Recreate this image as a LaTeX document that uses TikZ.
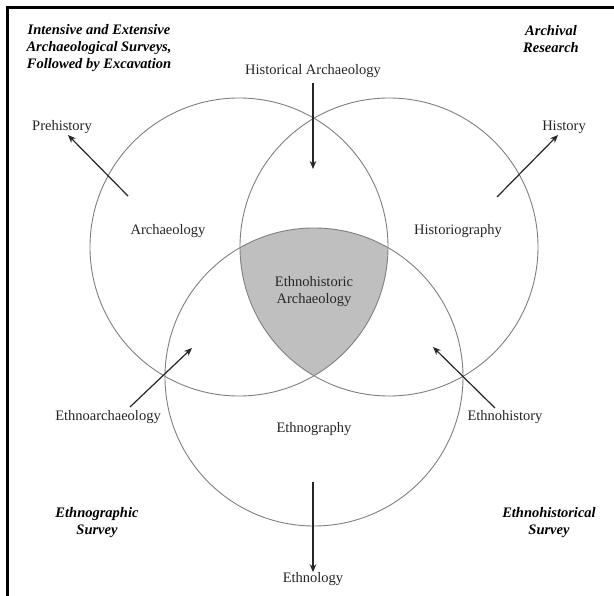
\documentclass[tikz,border=0pt]{standalone}
\usepackage{fontspec}
\setmainfont{Liberation Serif}
\usepackage{tikz}
\usetikzlibrary{arrows.meta,positioning}

\begin{document}
\begin{tikzpicture}[
  x=1pt, y=-1pt,
  ring/.style={draw=black!50, line width=0.9pt},
  core/.style={fill=black!25},
  field/.style={inner sep=0pt, text=black!85, align=center,
    font=\fontsize{14.5}{17}\selectfont},
  survey/.style={inner sep=0pt, text=black, align=center,
    font=\fontsize{14.5}{17}\selectfont\bfseries\itshape},
  arr/.style={-{Stealth[length=8pt,width=6.5pt]}, line width=1.2pt, draw=black!85}
]
\useasboundingbox (0,0) rectangle (614,596);
\fill[white] (0,0) rectangle (614,596);
\draw[line width=3pt] (7.5,600) -- (7.5,7.5) -- (620,7.5);

% circle centres
\coordinate (arch)  at (239,247);
\coordinate (hist)  at (389,247);
\coordinate (ethno) at (314,377);

\begin{scope}
  \clip (arch) circle[radius=149];
  \clip (hist) circle[radius=149];
  \fill[core] (ethno) circle[radius=149];
\end{scope}
\draw[ring] (arch)  circle[radius=149];
\draw[ring] (hist)  circle[radius=149];
\draw[ring] (ethno) circle[radius=149];

% labels inside
\node[field] (archl)  at (168,231) {Archaeology};
\node[field] (histl)  at (458,231) {Historiography};
\node[field] (ethnol) at (314,429) {Ethnography};
\node[field] (corel)  at (314,292) {Ethnohistoric\\Archaeology};

% labels outside
\node[field] (histarch) at (313,71)  {Historical Archaeology};
\node[field] (prehist)  at (62,127)  {Prehistory};
\node[field] (history)  at (564,127) {History};
\node[field] (etharch)  at (108,417) {Ethnoarchaeology};
\node[field] (ethhist)  at (505,417) {Ethnohistory};
\node[field] (ethnlgy)  at (313,579) {Ethnology};

% survey notes
\node[survey] (intens)  at (99,48)   {Intensive and Extensive\\Archaeological Surveys,\\Followed by Excavation};
\node[survey] (archiv)  at (551,39)  {Archival\\Research};
\node[survey] (ethsurv) at (97,523)  {Ethnographic\\Survey};
\node[survey] (ehsurv)  at (549,523) {Ethnohistorical\\Survey};

% arrow ends
\coordinate (pretail)  at (128,196);
\coordinate (prehead)  at (68,135);
\coordinate (histtail) at (497,197);
\coordinate (histhead) at (558,135);
\coordinate (hatail)   at (313,83);
\coordinate (hahead)   at (313,169);
\coordinate (eatail)   at (130,407);
\coordinate (eahead)   at (192,348);
\coordinate (ehtail)   at (495,408);
\coordinate (ehhead)   at (433,347);
\coordinate (eltail)   at (313,482);

\draw[arr] (pretail)  -- (prehead);
\draw[arr] (histtail) -- (histhead);
\draw[arr] (hatail)   -- (hahead);
\draw[arr] (eatail)   -- (eahead);
\draw[arr] (ehtail)   -- (ehhead);
\draw[arr] (eltail)   -- (ethnlgy.north);
\end{tikzpicture}
\end{document}
